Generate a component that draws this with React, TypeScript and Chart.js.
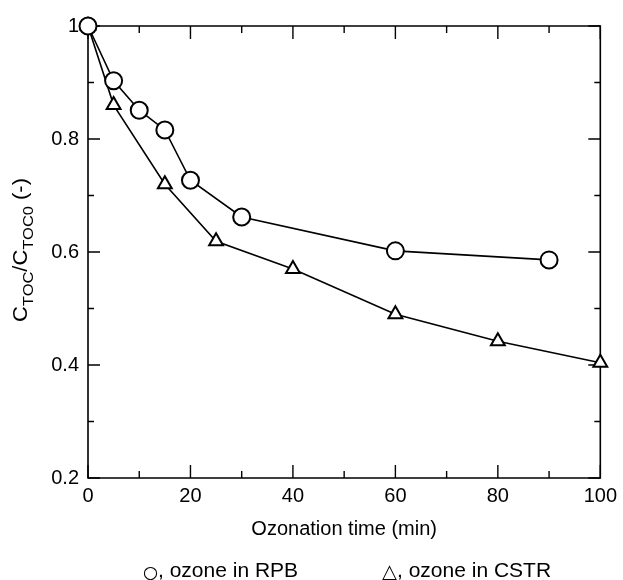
import React, { useEffect, useRef } from "react";
import { Chart, registerables } from "chart.js";
Chart.register(...registerables);

const rpbTime = [0, 5, 10, 15, 20, 30, 60, 90];
const rpbRatio = [1.0, 0.903, 0.851, 0.816, 0.727, 0.662, 0.602, 0.586];
const cstrTime = [0, 5, 15, 25, 40, 60, 80, 100];
const cstrRatio = [1.0, 0.86, 0.72, 0.619, 0.57, 0.49, 0.442, 0.404];
const xMajorTicks = [0, 20, 40, 60, 80, 100];
const xMinorTicks = [10, 30, 50, 70, 90];
const yMajorTicks = [0.2, 0.4, 0.6, 0.8, 1.0];
const yMinorTicks = [0.3, 0.5, 0.7, 0.9];
const xTitle = "Ozonation time (min)";
const legendSymbols = ["○", "△"];
const legendTexts = [", ozone in RPB", ", ozone in CSTR"];

const FONT = "'Liberation Sans', Arial, Helvetica, sans-serif";
const SYMFONT = "'DejaVu Sans', sans-serif";

const framePlugin = {
  id: "frame",
  beforeDatasetsDraw(chart: any) {
    const { ctx, chartArea, scales } = chart;
    const { left, right, top, bottom } = chartArea;
    ctx.save();
    ctx.strokeStyle = "#000";
    ctx.lineWidth = 1.6;
    ctx.beginPath();
    ctx.rect(left, top, right - left, bottom - top);
    ctx.stroke();
    const xs = scales.x;
    const ys = scales.y;
    ctx.lineWidth = 1.4;
    const drawX = (vals: number[], len: number) => {
      vals.forEach((v) => {
        const px = xs.getPixelForValue(v);
        ctx.beginPath();
        ctx.moveTo(px, bottom);
        ctx.lineTo(px, bottom - len);
        ctx.moveTo(px, top);
        ctx.lineTo(px, top + len);
        ctx.stroke();
      });
    };
    const drawY = (vals: number[], len: number) => {
      vals.forEach((v) => {
        const py = ys.getPixelForValue(v);
        ctx.beginPath();
        ctx.moveTo(left, py);
        ctx.lineTo(left + len, py);
        ctx.moveTo(right, py);
        ctx.lineTo(right - len, py);
        ctx.stroke();
      });
    };
    drawX(xMajorTicks, 13);
    drawX(xMinorTicks, 7);
    drawY(yMajorTicks, 12);
    drawY(yMinorTicks, 6);
    ctx.restore();
  },
  afterDraw(chart: any) {
    const { ctx, chartArea } = chart;
    ctx.save();
    ctx.fillStyle = "#000";
    // x title
    ctx.font = `20px ${FONT}`;
    ctx.textAlign = "center";
    ctx.textBaseline = "alphabetic";
    ctx.fillText(xTitle, (chartArea.left + chartArea.right) / 2, 535);
    // legend
    ctx.textAlign = "left";
    const legendX = [143, 382];
    legendSymbols.forEach((sym, i) => {
      ctx.font = `18px ${SYMFONT}`;
      const w = ctx.measureText(sym).width;
      const scaleF = 15 / w;
      ctx.save();
      ctx.translate(legendX[i], 578);
      ctx.scale(scaleF, scaleF);
      ctx.fillText(sym, 0, 0);
      ctx.restore();
      ctx.font = `21px ${FONT}`;
      ctx.fillText(legendTexts[i], legendX[i] + 15, 577);
    });
    // y title with subscripts
    const parts: [string, boolean][] = [
      ["C", false],
      ["TOC", true],
      ["/C", false],
      ["TOC0", true],
      [" (-)", false],
    ];
    const big = `20px ${FONT}`;
    const small = `15px ${FONT}`;
    let total = 0;
    parts.forEach(([t, sub]) => {
      ctx.font = sub ? small : big;
      total += ctx.measureText(t).width;
    });
    const stretch = 144 / total;
    ctx.translate(27, 250);
    ctx.rotate(-Math.PI / 2);
    ctx.scale(stretch, 1);
    let x = -total / 2;
    parts.forEach(([t, sub]) => {
      ctx.font = sub ? small : big;
      ctx.fillText(t, x, sub ? 6 : 0);
      x += ctx.measureText(t).width;
    });
    ctx.restore();
  },
};

export default function App() {
  const ref = useRef<HTMLCanvasElement | null>(null);
  useEffect(() => {
    document.body.style.margin = "0";
    if (!ref.current) return;
    const chart = new Chart(ref.current, {
      type: "line",
      data: {
        datasets: [
          {
            label: "ozone in RPB",
            data: rpbTime.map((t, i) => ({ x: t, y: rpbRatio[i] })),
            borderColor: "#000",
            borderWidth: 1.6,
            pointStyle: "circle",
            pointRadius: 8.5,
            pointBorderWidth: 2,
            pointBackgroundColor: "#fff",
            pointBorderColor: "#000",
            clip: false,
            tension: 0,
          },
          {
            label: "ozone in CSTR",
            data: cstrTime.map((t, i) => ({ x: t, y: cstrRatio[i] })),
            borderColor: "#000",
            borderWidth: 1.6,
            pointStyle: "triangle",
            pointRadius: 8,
            pointBorderWidth: 2,
            pointBackgroundColor: "#fff",
            pointBorderColor: "#000",
            clip: false,
            tension: 0,
          },
        ],
      },
      options: {
        animation: false,
        responsive: false,
        layout: { padding: { top: 26, right: 19, left: 0, bottom: 0 } },
        plugins: { legend: { display: false }, tooltip: { enabled: false } },
        scales: {
          x: {
            type: "linear",
            min: 0,
            max: 100,
            grid: { display: false, drawTicks: false },
            border: { display: false },
            afterBuildTicks: (s: any) => {
              s.ticks = xMajorTicks.map((v) => ({ value: v }));
            },
            afterFit: (s: any) => {
              s.height = 102;
            },
            ticks: {
              padding: 6,
              color: "#000",
              font: { family: FONT, size: 20 },
              maxRotation: 0,
              autoSkip: false,
              callback: (v: any) => String(v),
            },
          },
          y: {
            type: "linear",
            min: 0.2,
            max: 1.0,
            grid: { display: false, drawTicks: false },
            border: { display: false },
            afterBuildTicks: (s: any) => {
              s.ticks = yMajorTicks.map((v) => ({ value: v }));
            },
            afterFit: (s: any) => {
              s.width = 88;
            },
            ticks: {
              padding: 9,
              color: "#000",
              font: { family: FONT, size: 20 },
              autoSkip: false,
              callback: (v: any) => (Math.abs(v - 1) < 1e-9 ? "1" : Number(v).toFixed(1)),
            },
          },
        },
      },
      plugins: [framePlugin],
    } as any);
    return () => chart.destroy();
  }, []);
  return (
    <div style={{ position: "absolute", left: 0, top: 0, width: 623, height: 580, background: "#fff" }}>
      <canvas ref={ref} width={623} height={580} />
    </div>
  );
}
